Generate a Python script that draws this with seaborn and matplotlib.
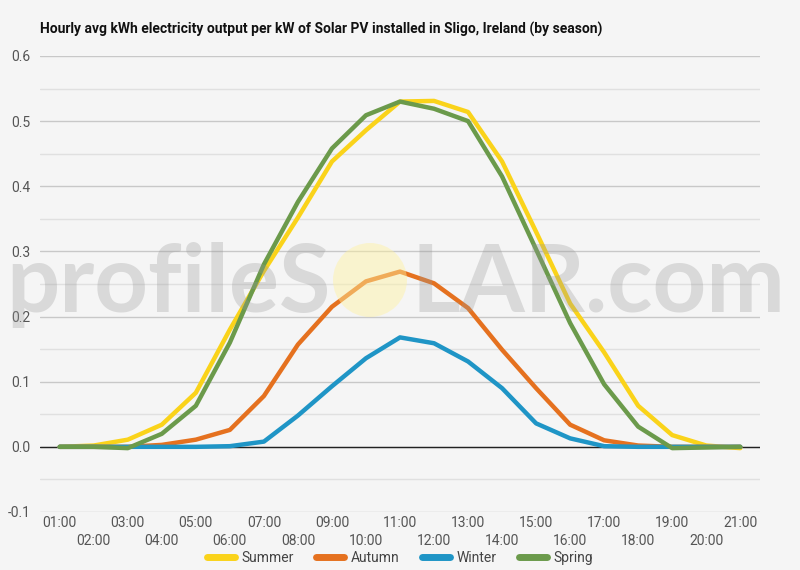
import numpy as np
import pandas as pd
import seaborn as sns
import matplotlib.pyplot as plt
from matplotlib.patches import Circle

sns.set_theme(style="white")
plt.rcParams['font.family'] = ['Roboto', 'DejaVu Sans']

hours = list(range(1, 22))
hour_labels = ["%02d:00" % h for h in hours]

summer = [0.0, 0.002, 0.011, 0.034, 0.083, 0.18, 0.27, 0.352, 0.438, 0.486, 0.530,
          0.531, 0.514, 0.438, 0.330, 0.220, 0.145, 0.063, 0.018, 0.002, -0.002]
autumn = [0.0, 0.0, 0.0, 0.003, 0.011, 0.026, 0.078, 0.157, 0.215, 0.254, 0.269,
          0.251, 0.213, 0.149, 0.090, 0.034, 0.010, 0.002, 0.0, 0.0, 0.0]
winter = [0.0, 0.0, 0.0, 0.0, 0.0, 0.001, 0.008, 0.048, 0.093, 0.136, 0.168,
          0.159, 0.131, 0.090, 0.036, 0.013, 0.001, 0.0, 0.0, 0.0, 0.0]
spring = [0.0, 0.0, -0.002, 0.020, 0.063, 0.160, 0.280, 0.376, 0.458, 0.509, 0.530,
          0.519, 0.500, 0.415, 0.303, 0.190, 0.096, 0.031, -0.002, -0.001, 0.0]

seasons = ["Summer", "Autumn", "Winter", "Spring"]
colors = {"Summer": "#FAD31A", "Autumn": "#E5711F", "Winter": "#1F95C6", "Spring": "#6B9A4B"}

df = pd.concat([
    pd.DataFrame({"hour": hours, "kwh": vals, "Season": name})
    for name, vals in zip(seasons, [summer, autumn, winter, spring])
])

bg = "#F5F5F5"
fig = plt.figure(figsize=(8, 5.7), dpi=100, facecolor=bg)
ax = fig.add_axes([0.05, 0.1018, 0.90, 0.80])
ax.set_facecolor(bg)

sns.lineplot(data=df, x="hour", y="kwh", hue="Season", hue_order=seasons,
             palette=colors, linewidth=3.2, ax=ax, legend=True, zorder=3)

ax.set_xlim(0.42, 21.58)
ax.set_ylim(-0.1, 0.6)
ax.set_yticks(np.arange(-0.1, 0.61, 0.1))
ax.set_yticklabels(["%.1f" % v for v in np.arange(-0.1, 0.61, 0.1)])
ax.set_yticks(np.arange(-0.05, 0.6, 0.1), minor=True)
ax.yaxis.grid(True, which="major", color="#C8C8C8", linewidth=1.0)
ax.yaxis.grid(True, which="minor", color="#E0E0E0", linewidth=1.0)
ax.xaxis.grid(False)
ax.axhline(0, color="#222222", linewidth=1.0, zorder=2)

# odd hours on the first row, even hours on the second
ax.set_xticks(hours[0::2], labels=hour_labels[0::2])
ax.set_xticks(hours[1::2], labels=hour_labels[1::2], minor=True)
ax.tick_params(axis="x", which="major", length=0, pad=3, labelsize=10, labelcolor="#555555")
ax.tick_params(axis="x", which="minor", length=0, pad=15.5, labelsize=10, labelcolor="#555555")
ax.tick_params(axis="y", which="both", length=0, pad=7, labelsize=10, labelcolor="#555555")
ax.set_xlabel("")
ax.set_ylabel("")
for s in ax.spines.values():
    s.set_visible(False)

handles, labels = ax.get_legend_handles_labels()
ax.legend_.remove()
leg = fig.legend(handles, labels, loc="center", bbox_to_anchor=(0.5, 0.021), ncol=4,
                 frameon=False, fontsize=10, handlelength=2.0, columnspacing=1.6,
                 handletextpad=0.5, labelcolor="#444444")
for h in leg.legend_handles:
    h.set_linewidth(5)

fig.text(40 / 800, 1 - 29 / 570,
         "Hourly avg kWh electricity output per kW of Solar PV installed in Sligo, Ireland (by season)",
         ha="left", va="center", fontsize=10, fontweight="bold", color="#111111")

# watermark
wm_y = 1 - 312 / 570
fig.text(331 / 800, wm_y, "profileS", ha="right", va="baseline", fontsize=67.5,
         fontweight="bold", family="Lato", color="#999999", alpha=0.3, zorder=10)
fig.text(411 / 800, wm_y, "LAR.com", ha="left", va="baseline", fontsize=67.5,
         fontweight="bold", family="Lato", color="#999999", alpha=0.3, zorder=10)
fig.patches.append(Circle((3.70, 2.90), 0.37, transform=fig.dpi_scale_trans,
                          facecolor="#FFF2A0", edgecolor="none", alpha=0.45, zorder=10))

fig.savefig("out.png", dpi=100, facecolor=bg)
